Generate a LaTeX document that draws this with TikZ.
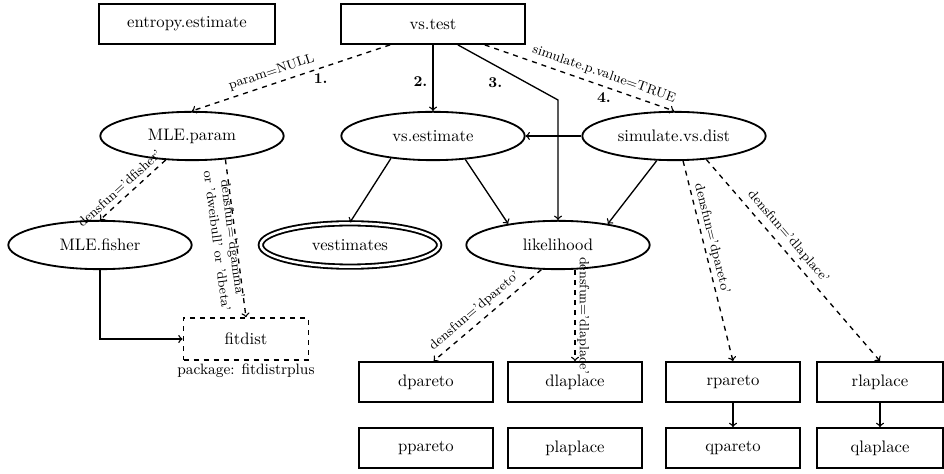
\documentclass[tikz,border=0pt]{standalone}
\usetikzlibrary{shapes.geometric}

\begin{document}
\begin{tikzpicture}[x=0.6pt,y=0.6pt,>=to]
  \tikzstyle{every node}=[font=\normalsize]
  \tikzstyle{fun}=[draw,line width=1.1pt,rectangle,minimum width=80pt,minimum height=24pt]
  \tikzstyle{wfun}=[fun,minimum width=106pt]
  \tikzstyle{proc}=[draw,line width=1.1pt,ellipse,inner sep=0pt,minimum width=110pt,minimum height=29pt]
  \tikzstyle{lbl}=[font=\footnotesize,sloped,above,inner sep=3pt]
  \tikzstyle{num}=[font=\small\bfseries,inner sep=3pt]
  \tikzstyle{link}=[->,thick]
  \tikzstyle{opt}=[->,thick,dashed]

  \useasboundingbox (0,0) rectangle (944,474);

  \node[wfun] (entropy) at (187,450) {entropy.estimate};
  \node[wfun,minimum width=110pt] (vstest) at (433,450) {vs.test};

  \node[proc] (mleparam) at (192,338) {MLE.param};
  \node[proc] (vsestimate) at (433,338) {vs.estimate};
  \node[proc] (simdist) at (674,338) {simulate.vs.dist};

  \node[proc] (mlefisher) at (100,229) {MLE.fisher};
  \node[proc,double,double distance=1.5pt,minimum width=107pt,minimum height=26pt] (vestimates) at (350,229) {vestimates};
  \node[proc] (likelihood) at (558,229) {likelihood};

  \node[fun,dashed,minimum width=75pt,minimum height=25pt] (fitdist) at (246,135) {fitdist};
  \node[font=\small,anchor=north,inner sep=2pt] (pkg) at (fitdist.south) {package: fitdistrplus};

  \node[fun] (dpareto) at (426,92) {dpareto};
  \node[fun] (ppareto) at (426,26) {ppareto};
  \node[fun] (dlaplace) at (575,92) {dlaplace};
  \node[fun] (plaplace) at (575,26) {plaplace};
  \node[fun] (rpareto) at (733,92) {rpareto};
  \node[fun] (qpareto) at (733,26) {qpareto};
  \node[fun,minimum width=76pt] (rlaplace) at (880,92) {rlaplace};
  \node[fun,minimum width=76pt] (qlaplace) at (880,26) {qlaplace};

  \coordinate (bend) at (558,374);

  % calls from vs.test
  \draw[opt] (vstest.-154) -- node[lbl,pos=.58] {param=NULL} node[num,below,pos=.35] {1.} (mleparam.north);
  \draw[link] (vstest) -- node[num,left,pos=.56] {2.} (vsestimate);
  \draw[link] (vstest.-40) -- node[num,below left,pos=.5] {3.} (bend) -- (likelihood);
  \draw[opt] (vstest.-22) -- node[lbl,pos=.61] {simulate.p.value=TRUE} node[num,below,pos=.63] {4.} (simdist.north);

  \draw[link] (simdist) -- (vsestimate);
  \draw[link] (vsestimate.-152) -- (vestimates.north);
  \draw[link] (vsestimate.-36) -- (likelihood.157);
  \draw[link] (simdist.-125) -- (likelihood.23);

  \draw[opt] (mleparam) -- node[lbl,pos=.6] {densfun='dfisher'} (mlefisher.north);
  \draw[opt] (mleparam.-35) -- node[font=\footnotesize,sloped,below=-5pt,align=center,pos=.5] {densfun='dgamma'\\or 'dweibull' or 'dbeta'} (fitdist.north);
  \draw[link] (mlefisher) |- (fitdist);

  \draw[opt] (likelihood.-124) -- node[lbl,pos=.55] {densfun='dpareto'} (dpareto.70);
  \draw[opt] (likelihood.south -| dlaplace.north) -- node[lbl,pos=.5,inner sep=1pt] {densfun='dlaplace'} (dlaplace.north);
  \draw[opt] (simdist.-70) -- node[lbl,pos=.4,inner sep=1.5pt] {densfun='dpareto'} (rpareto.north);
  \draw[opt] (simdist.-36) -- node[lbl,pos=.42] {densfun='dlaplace'} (rlaplace.north);

  \draw[link] (rpareto) -- (qpareto);
  \draw[link] (rlaplace) -- (qlaplace);

\end{tikzpicture}
\end{document}
